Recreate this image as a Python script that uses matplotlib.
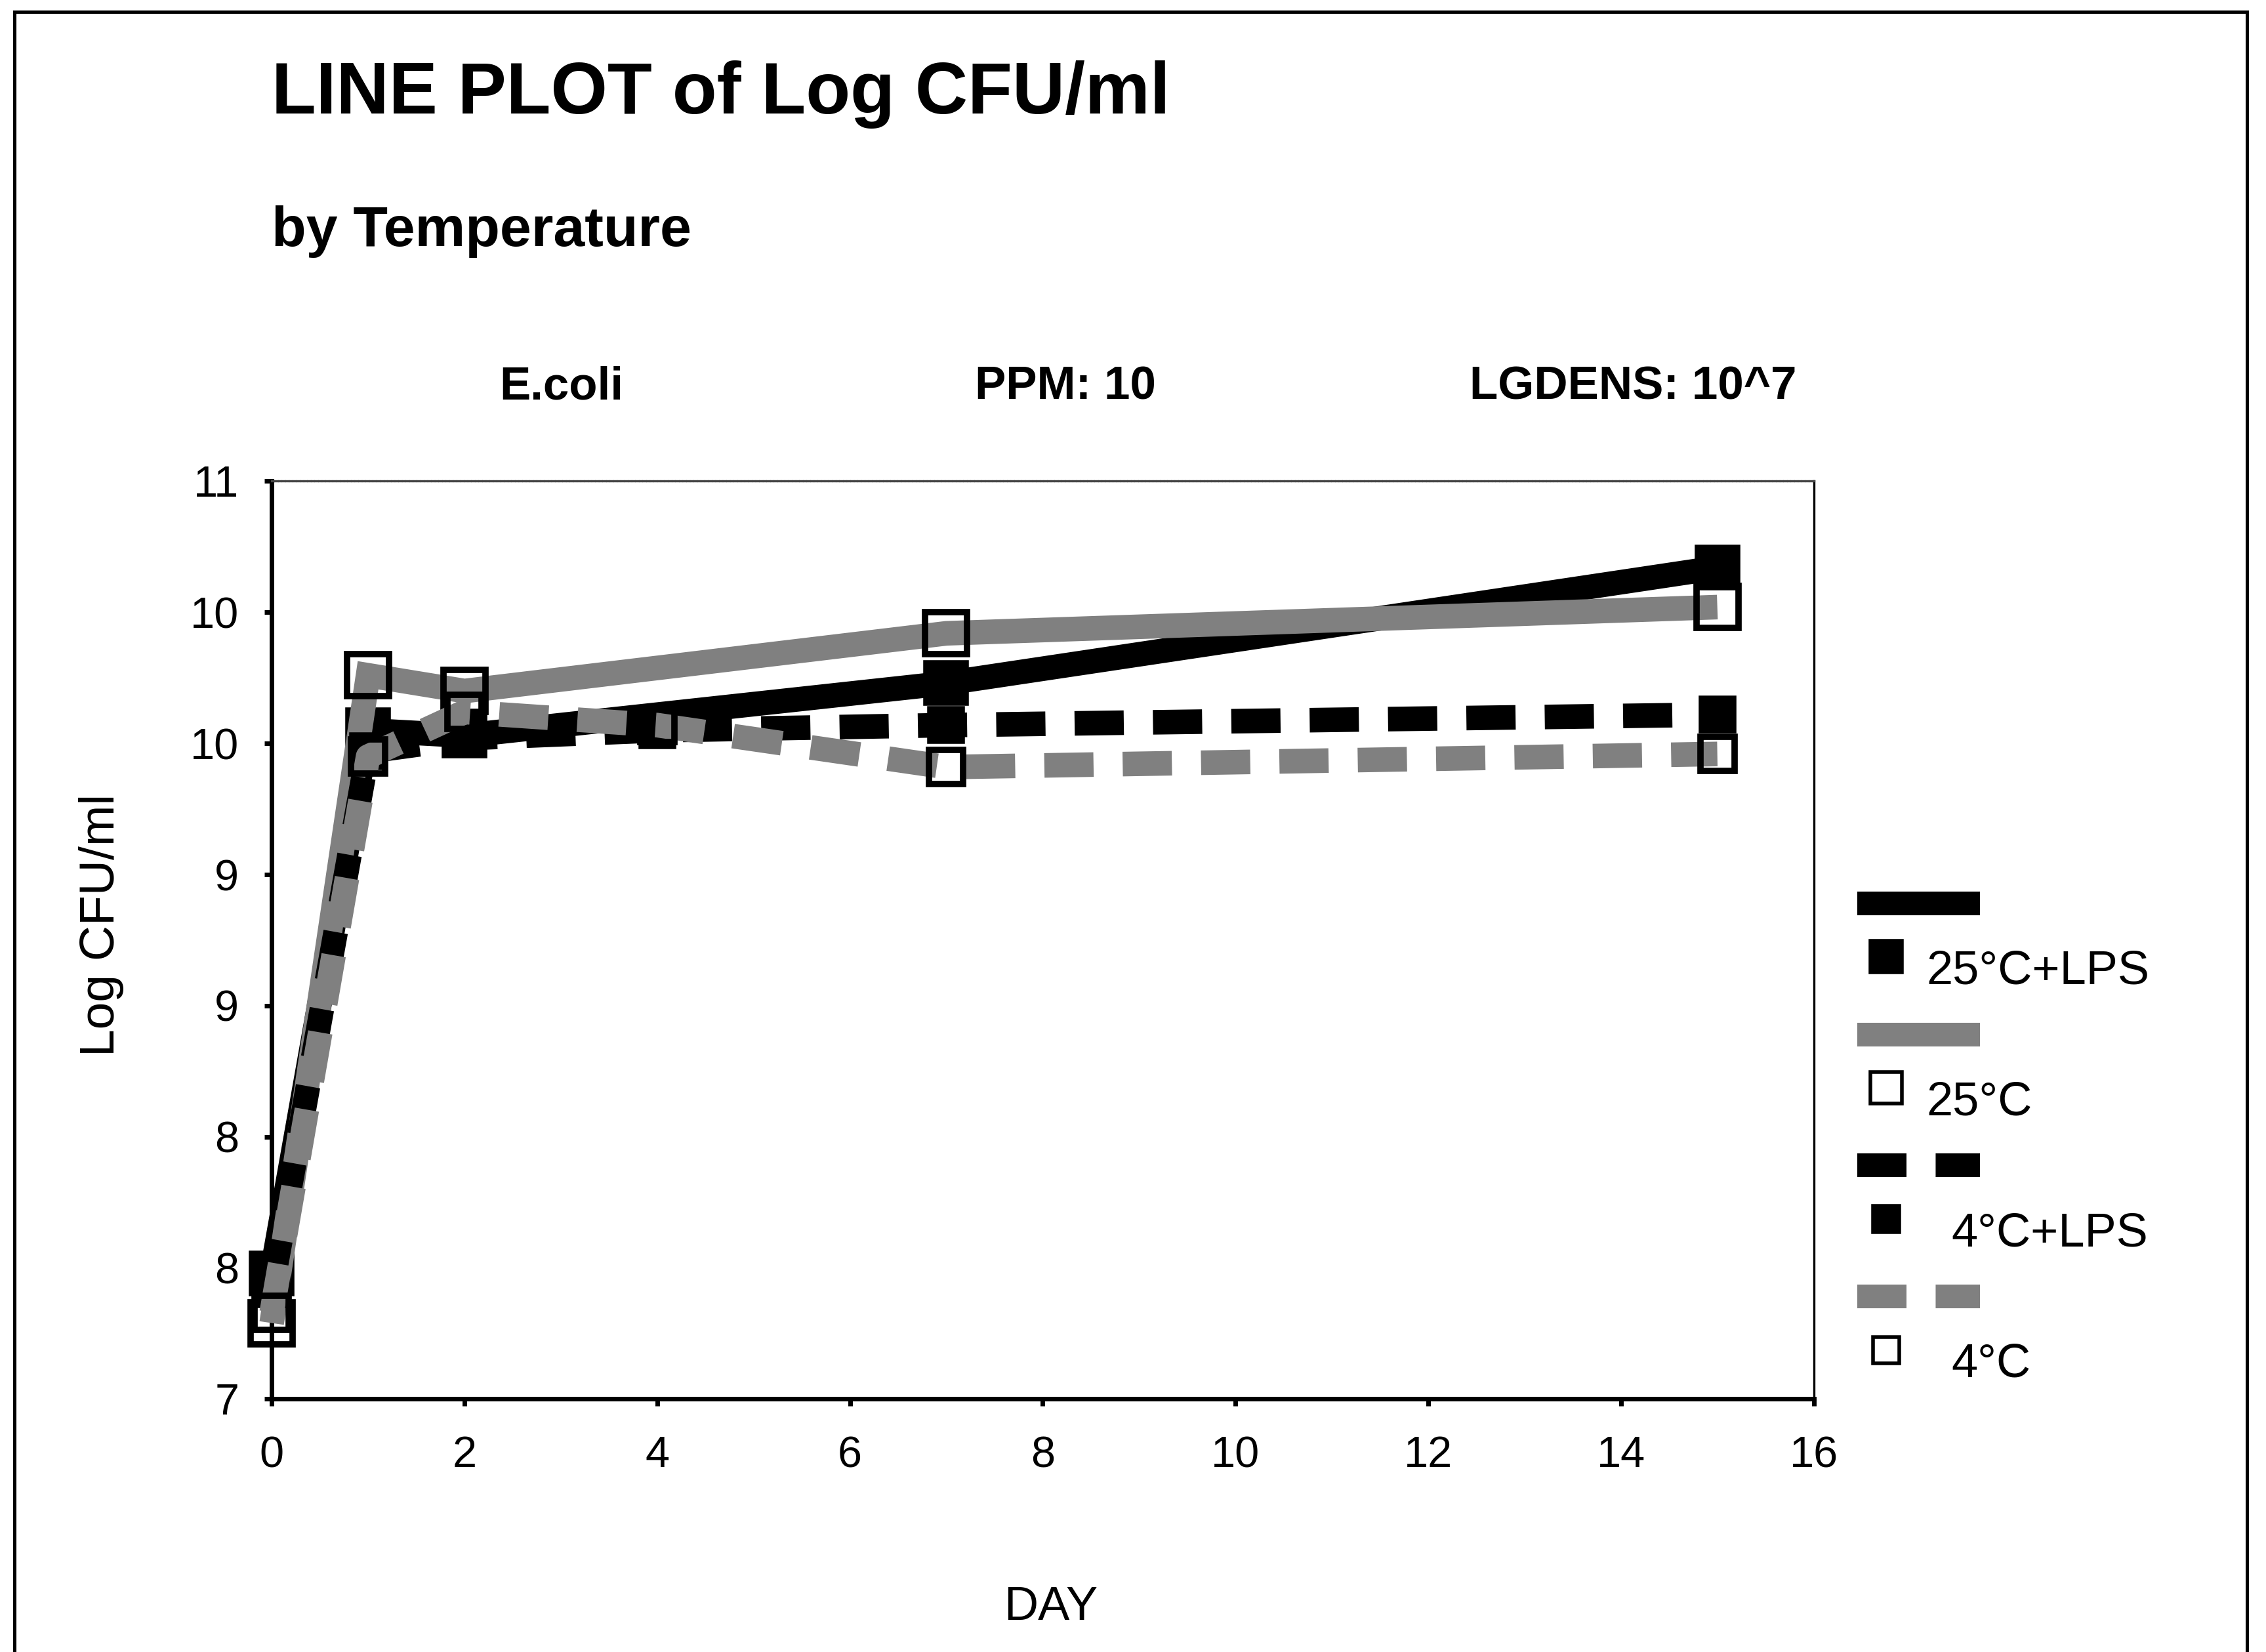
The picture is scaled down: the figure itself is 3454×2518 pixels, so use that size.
import matplotlib
matplotlib.use("Agg")
import matplotlib.pyplot as plt
from matplotlib.lines import Line2D
from matplotlib.patches import Rectangle

# values
days_25 = [0, 1, 2, 7, 15]
days_4 = [0, 1, 2, 4, 7, 15]
cfu_25_lps = [7.48, 9.55, 9.53, 9.73, 10.17]
cfu_25 = [7.29, 9.76, 9.70, 9.92, 10.02]
cfu_4_lps = [7.42, 9.47, 9.52, 9.55, 9.57, 9.61]
cfu_4 = [7.33, 9.45, 9.62, 9.57, 9.41, 9.46]

series_labels = ["25°C+LPS", "25°C", "4°C+LPS", "4°C"]
x_ticks = [0, 2, 4, 6, 8, 10, 12, 14, 16]
y_ticks = [7.0, 7.5, 8.0, 8.5, 9.0, 9.5, 10.0, 10.5]
y_tick_labels = ["7", "8", "8", "9", "9", "10", "10", "11"]

plt.rcParams['font.family'] = ['Liberation Sans', 'DejaVu Sans']
plt.rcParams['lines.scale_dashes'] = False

black = "black"
grey = "#808080"
dash = (0, (27, 16))

styles = [
    dict(color=black, ls="-", marker="s", ms=23, mfc=black, mec=black, mew=2),
    dict(color=grey, ls="-", marker="s", ms=23, mfc="none", mec=black, mew=3.5),
    dict(color=black, ls=dash, marker="s", ms=19, mfc=black, mec=black, mew=2),
    dict(color=grey, ls=dash, marker="s", ms=19, mfc="none", mec=black, mew=3.5),
]
xs = [days_25, days_25, days_4, days_4]
ys = [cfu_25_lps, cfu_25, cfu_4_lps, cfu_4]

fig = plt.figure(figsize=(17.27, 12.59), dpi=200)
ax = fig.add_axes([0.1199, 0.1531, 0.6805, 0.5556])

# draw order: 25C, 25C+LPS, 4C+LPS, 4C on top
for i in [1, 0, 2, 3]:
    st = styles[i]
    ax.plot(xs[i], ys[i], color=st["color"], linestyle=st["ls"], lw=13.5,
            solid_capstyle="butt", dash_capstyle="butt", solid_joinstyle="miter",
            marker=st["marker"], markersize=st["ms"], markerfacecolor=st["mfc"],
            markeredgecolor=st["mec"], markeredgewidth=st["mew"], clip_on=False,
            zorder=3 + i)

ax.set_xlim(0, 16)
ax.set_ylim(7, 10.5)
ax.set_xticks(x_ticks)
ax.set_xticklabels([str(t) for t in x_ticks])
ax.set_yticks(y_ticks)
ax.set_yticklabels(y_tick_labels)
ax.tick_params(axis="both", direction="out", length=4, width=2.5, labelsize=24)
ax.tick_params(axis="x", pad=16)
ax.tick_params(axis="y", pad=14)

for side in ["left", "bottom"]:
    ax.spines[side].set_linewidth(2.5)
ax.spines["right"].set_linewidth(1.2)
ax.spines["top"].set_linewidth(1.2)
ax.spines["top"].set_linestyle((0, (1, 1)))
ax.spines["top"].set_color("#444444")

# titles and header texts
fig.text(0.1199, 0.943, "LINE PLOT of Log CFU/ml", fontsize=40, fontweight="bold",
         ha="left", va="center")
fig.text(0.1199, 0.860, "by Temperature", fontsize=31, fontweight="bold",
         ha="left", va="center")
fig.text(0.2478, 0.7655, "E.coli", fontsize=25.5, fontweight="bold", ha="center", va="center")
fig.text(0.4703, 0.7655, "PPM: 10", fontsize=25.5, fontweight="bold", ha="center", va="center")
fig.text(0.7207, 0.7655, "LGDENS: 10^7", fontsize=25.5, fontweight="bold", ha="center", va="center")

fig.text(0.4636, 0.027, "DAY", fontsize=26, ha="center", va="center")
fig.text(0.0446, 0.44, "Log CFU/ml", fontsize=27, rotation=90, ha="center", va="center")

# legend outside the axes, line sample above marker + label
line_x0, line_x1 = 0.8195, 0.8737
mark_x = 0.8323
label_x = [0.850, 0.850, 0.861, 0.861]
for i, lab in enumerate(series_labels):
    st = styles[i]
    y_line = 1 - (625 + 90.7 * i) / 1143
    y_mark = 1 - (662 + 90.7 * i) / 1143
    fig.add_artist(Line2D([line_x0, line_x1], [y_line, y_line], transform=fig.transFigure,
                          color=st["color"], linestyle=st["ls"], lw=13,
                          solid_capstyle="butt", dash_capstyle="butt"))
    fig.add_artist(Line2D([mark_x], [y_mark], transform=fig.transFigure, linestyle="none",
                          marker="s", markersize=st["ms"] * 0.75, markerfacecolor=st["mfc"],
                          markeredgecolor=st["mec"], markeredgewidth=2))
    fig.text(label_x[i], y_mark - 0.009, lab, fontsize=26, ha="left", va="center")

# outer frame of the scanned page
fig.add_artist(Rectangle((0.0064, -0.01), 0.9852, 1.0029, transform=fig.transFigure,
                         fill=False, edgecolor="black", lw=1.8))

fig.savefig("out.png", dpi=200)
